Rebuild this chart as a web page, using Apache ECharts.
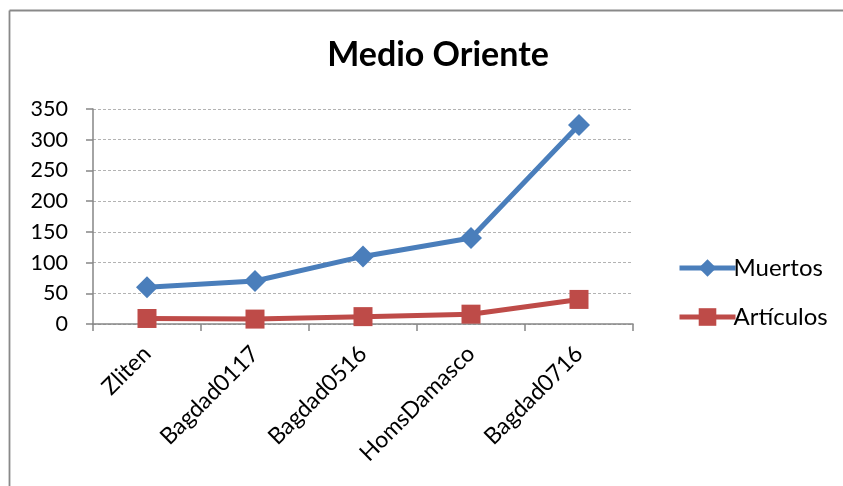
<!DOCTYPE html>
<html><head><meta charset="utf-8">
<script src="https://cdn.jsdelivr.net/npm/echarts@6/dist/echarts.min.js"></script>
<style>html,body{margin:0;padding:0;background:#fff}#c{width:843px;height:486px}</style>
</head><body><div id="c"></div>
<script>
var categories = ['Zliten', 'Bagdad0117', 'Bagdad0516', 'HomsDamasco', 'Bagdad0716'];
var muertos = [60, 70, 110, 140, 324];
var articulos = [9, 8, 12, 16, 40];
var yTicks = [0, 50, 100, 150, 200, 250, 300, 350];

var FONT = 'Lato, "Open Sans", sans-serif';
var chart = echarts.init(document.getElementById('c'));
chart.setOption({
  animation: false,
  backgroundColor: '#fff',
  graphic: [{
    type: 'line', shape: {x1: 9.5, y1: 10.5, x2: 843, y2: 10.5},
    style: {stroke: '#898989', lineWidth: 1.8}, silent: true
  }, {
    type: 'line', shape: {x1: 9.5, y1: 10.5, x2: 9.5, y2: 486},
    style: {stroke: '#898989', lineWidth: 1.8}, silent: true
  }],
  title: {
    text: 'Medio Oriente', left: 433, top: 33, textAlign: 'center',
    textStyle: {fontFamily: FONT, fontSize: 34, fontWeight: 'bold', color: '#000'}
  },
  legend: {
    orient: 'vertical', left: 672, top: 251, itemWidth: 56, itemHeight: 22, itemGap: 25,
    textStyle: {fontFamily: FONT, fontSize: 24, color: '#000', padding: [0, 0, 0, -7]},
    lineStyle: {width: 5},
    data: ['Muertos', 'Artículos']
  },
  grid: {left: 93, right: 210, top: 109, bottom: 162},
  xAxis: {
    type: 'category', data: categories, boundaryGap: true,
    axisLine: {lineStyle: {color: '#868686', width: 1.5}},
    axisTick: {show: true, length: 7, alignWithLabel: false, lineStyle: {color: '#868686', width: 1.5}},
    axisLabel: {rotate: 45, fontFamily: FONT, fontSize: 23, color: '#000', margin: 26, interval: 0}
  },
  yAxis: {
    type: 'value', min: 0, max: 350, interval: 50,
    axisLine: {show: true, lineStyle: {color: '#868686', width: 1.5}},
    axisTick: {show: true, length: 7, lineStyle: {color: '#868686', width: 1.5}},
    axisLabel: {fontFamily: FONT, fontSize: 21.5, color: '#000', margin: 25,
      formatter: function (v) { return yTicks.indexOf(v) >= 0 ? String(v) : ''; }},
    splitLine: {show: true, lineStyle: {color: '#b3b3b3', type: [3, 2], width: 1}}
  },
  series: [{
    name: 'Muertos', type: 'line', data: muertos,
    symbol: 'diamond', symbolSize: 22,
    lineStyle: {color: '#4a7ebb', width: 5},
    itemStyle: {color: '#4a7ebb'}
  }, {
    name: 'Artículos', type: 'line', data: articulos,
    symbol: 'rect', symbolSize: 19,
    lineStyle: {color: '#be4b48', width: 5},
    itemStyle: {color: '#be4b48'}
  }]
});
</script></body></html>
